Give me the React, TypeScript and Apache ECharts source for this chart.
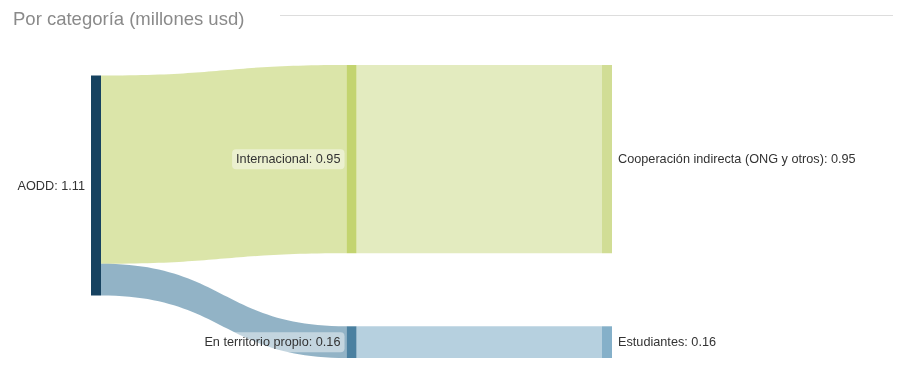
import React, { useEffect, useRef } from "react";
import * as echarts from "echarts";

const nodeNames = [
  "AODD",
  "Internacional",
  "En territorio propio",
  "Cooperación indirecta (ONG y otros)",
  "Estudiantes",
];
const nodeValues = [1.11, 0.95, 0.16, 0.95, 0.16];
const nodeColors = ["#164260", "#c3d46f", "#4a80a0", "#d1dd95", "#85b0c9"];
const nodeLabelPos = ["left", "left", "left", "right", "right"];

const linkSources = ["AODD", "AODD", "Internacional", "En territorio propio"];
const linkTargets = [
  "Internacional",
  "En territorio propio",
  "Cooperación indirecta (ONG y otros)",
  "Estudiantes",
];
const linkValues = [0.95, 0.16, 0.95, 0.16];

const titleText = "Por categoría (millones usd)";

export default function App() {
  const ref = useRef<HTMLDivElement>(null);
  useEffect(() => {
    if (!ref.current) return;
    const chart = echarts.init(ref.current, undefined, { renderer: "svg" });
    const data = nodeNames.map((name, i) => {
      const mid = i === 1 || i === 2;
      return {
        name,
        value: nodeValues[i],
        itemStyle: { color: nodeColors[i] },
        label: {
          position: nodeLabelPos[i],
          ...(mid
            ? {
                backgroundColor: "rgba(255,255,255,0.45)",
                borderRadius: 4,
                padding: [4, 4, 3, 4],
                distance: 2,
              }
            : { distance: 6 }),
        },
      };
    });
    const links = linkSources.map((s, i) => ({
      source: s,
      target: linkTargets[i],
      value: linkValues[i],
    }));
    chart.setOption({
      animation: false,
      title: {
        text: titleText,
        left: 8,
        top: 4,
        textStyle: {
          fontFamily: "Liberation Sans, Arial, sans-serif",
          fontSize: 18.5,
          fontWeight: "normal",
          color: "#8a8a8a",
        },
      },
      graphic: [
        {
          type: "line",
          shape: { x1: 280, y1: 15.5, x2: 893, y2: 15.5 },
          style: { stroke: "#dddddd", lineWidth: 1 },
        },
      ],
      series: [
        {
          type: "sankey",
          left: 91,
          right: 287,
          top: 65,
          bottom: 8,
          nodeWidth: 10,
          nodeGap: 73,
          draggable: false,
          emphasis: { disabled: true },
          data,
          links,
          lineStyle: { color: "target", opacity: 0.6, curveness: 0.5 },
          itemStyle: { borderWidth: 0 },
          label: {
            fontFamily: "Liberation Sans, Arial, sans-serif",
            fontSize: 12.7,
            color: "#333333",
            formatter: (p: any) => `${p.name}: ${Number(p.value).toFixed(2)}`,
          },
        },
      ],
    });
    return () => chart.dispose();
  }, []);
  return (
    <div
      ref={ref}
      style={{ position: "fixed", left: 0, top: 0, width: 899, height: 366 }}
    />
  );
}
